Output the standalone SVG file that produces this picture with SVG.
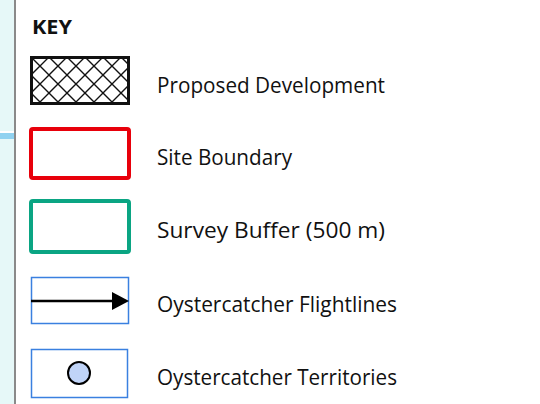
<svg xmlns="http://www.w3.org/2000/svg" width="540" height="404" viewBox="0 0 540 404">
<style>
.lbl{font-family:"Open Sans","Liberation Sans",sans-serif;font-size:21px;fill:#111}
.key{font-family:"Open Sans","Liberation Sans",sans-serif;font-size:20px;font-weight:bold;fill:#111}
.bluebox{fill:#fff;stroke:#3a80e0;stroke-width:1.5}
</style>
<defs>
<pattern id="hatch" width="18" height="18" patternUnits="userSpaceOnUse" x="31" y="57">
<path d="M0,0 L18,18 M18,0 L0,18" stroke="#111" stroke-width="1.4" fill="none"/>
</pattern>
</defs>
<rect width="540" height="404" fill="#fff"/>
<rect x="0" y="0" width="14" height="404" fill="#e6f8f8"/>
<rect x="0" y="131" width="14" height="2" fill="#fff"/>
<rect x="0" y="133" width="14" height="6" fill="#90d2f0"/>
<rect x="14" y="0" width="2" height="404" fill="#8a8a8a"/>
<text class="key" x="32" y="34" textLength="40" lengthAdjust="spacingAndGlyphs">KEY</text>
<g id="proposed-development">
<rect x="31.5" y="57.5" width="97" height="46" fill="url(#hatch)" stroke="#111" stroke-width="3"/>
<text class="lbl" x="157" y="93" textLength="228" lengthAdjust="spacingAndGlyphs">Proposed Development</text>
</g>
<g id="site-boundary">
<rect x="31" y="129" width="98" height="49" rx="2" fill="#fff" stroke="#e8000b" stroke-width="4"/>
<text class="lbl" x="157" y="165" textLength="135" lengthAdjust="spacingAndGlyphs">Site Boundary</text>
</g>
<g id="survey-buffer">
<rect x="31" y="201" width="98" height="51" rx="2" fill="#fff" stroke="#0aa583" stroke-width="4"/>
<text class="lbl" x="157" y="238" textLength="228" lengthAdjust="spacingAndGlyphs">Survey Buffer (500 m)</text>
</g>
<g id="flightlines">
<rect class="bluebox" x="31.5" y="277.5" width="97" height="46"/>
<text class="lbl" x="157" y="312" textLength="240" lengthAdjust="spacingAndGlyphs">Oystercatcher Flightlines</text>
</g>
<g id="territories">
<rect class="bluebox" x="31.5" y="349.5" width="96" height="48"/>
<circle cx="79" cy="373" r="11" fill="#c0d4f8" stroke="#000" stroke-width="2"/>
<text class="lbl" x="157" y="385" textLength="240" lengthAdjust="spacingAndGlyphs">Oystercatcher Territories</text>
</g>
<g id="connectors">
<line x1="31" y1="301" x2="112" y2="301" stroke="#000" stroke-width="2.5"/>
<path d="M112,292 L129,301 L112,310 Z" fill="#000"/>
</g>
</svg>
